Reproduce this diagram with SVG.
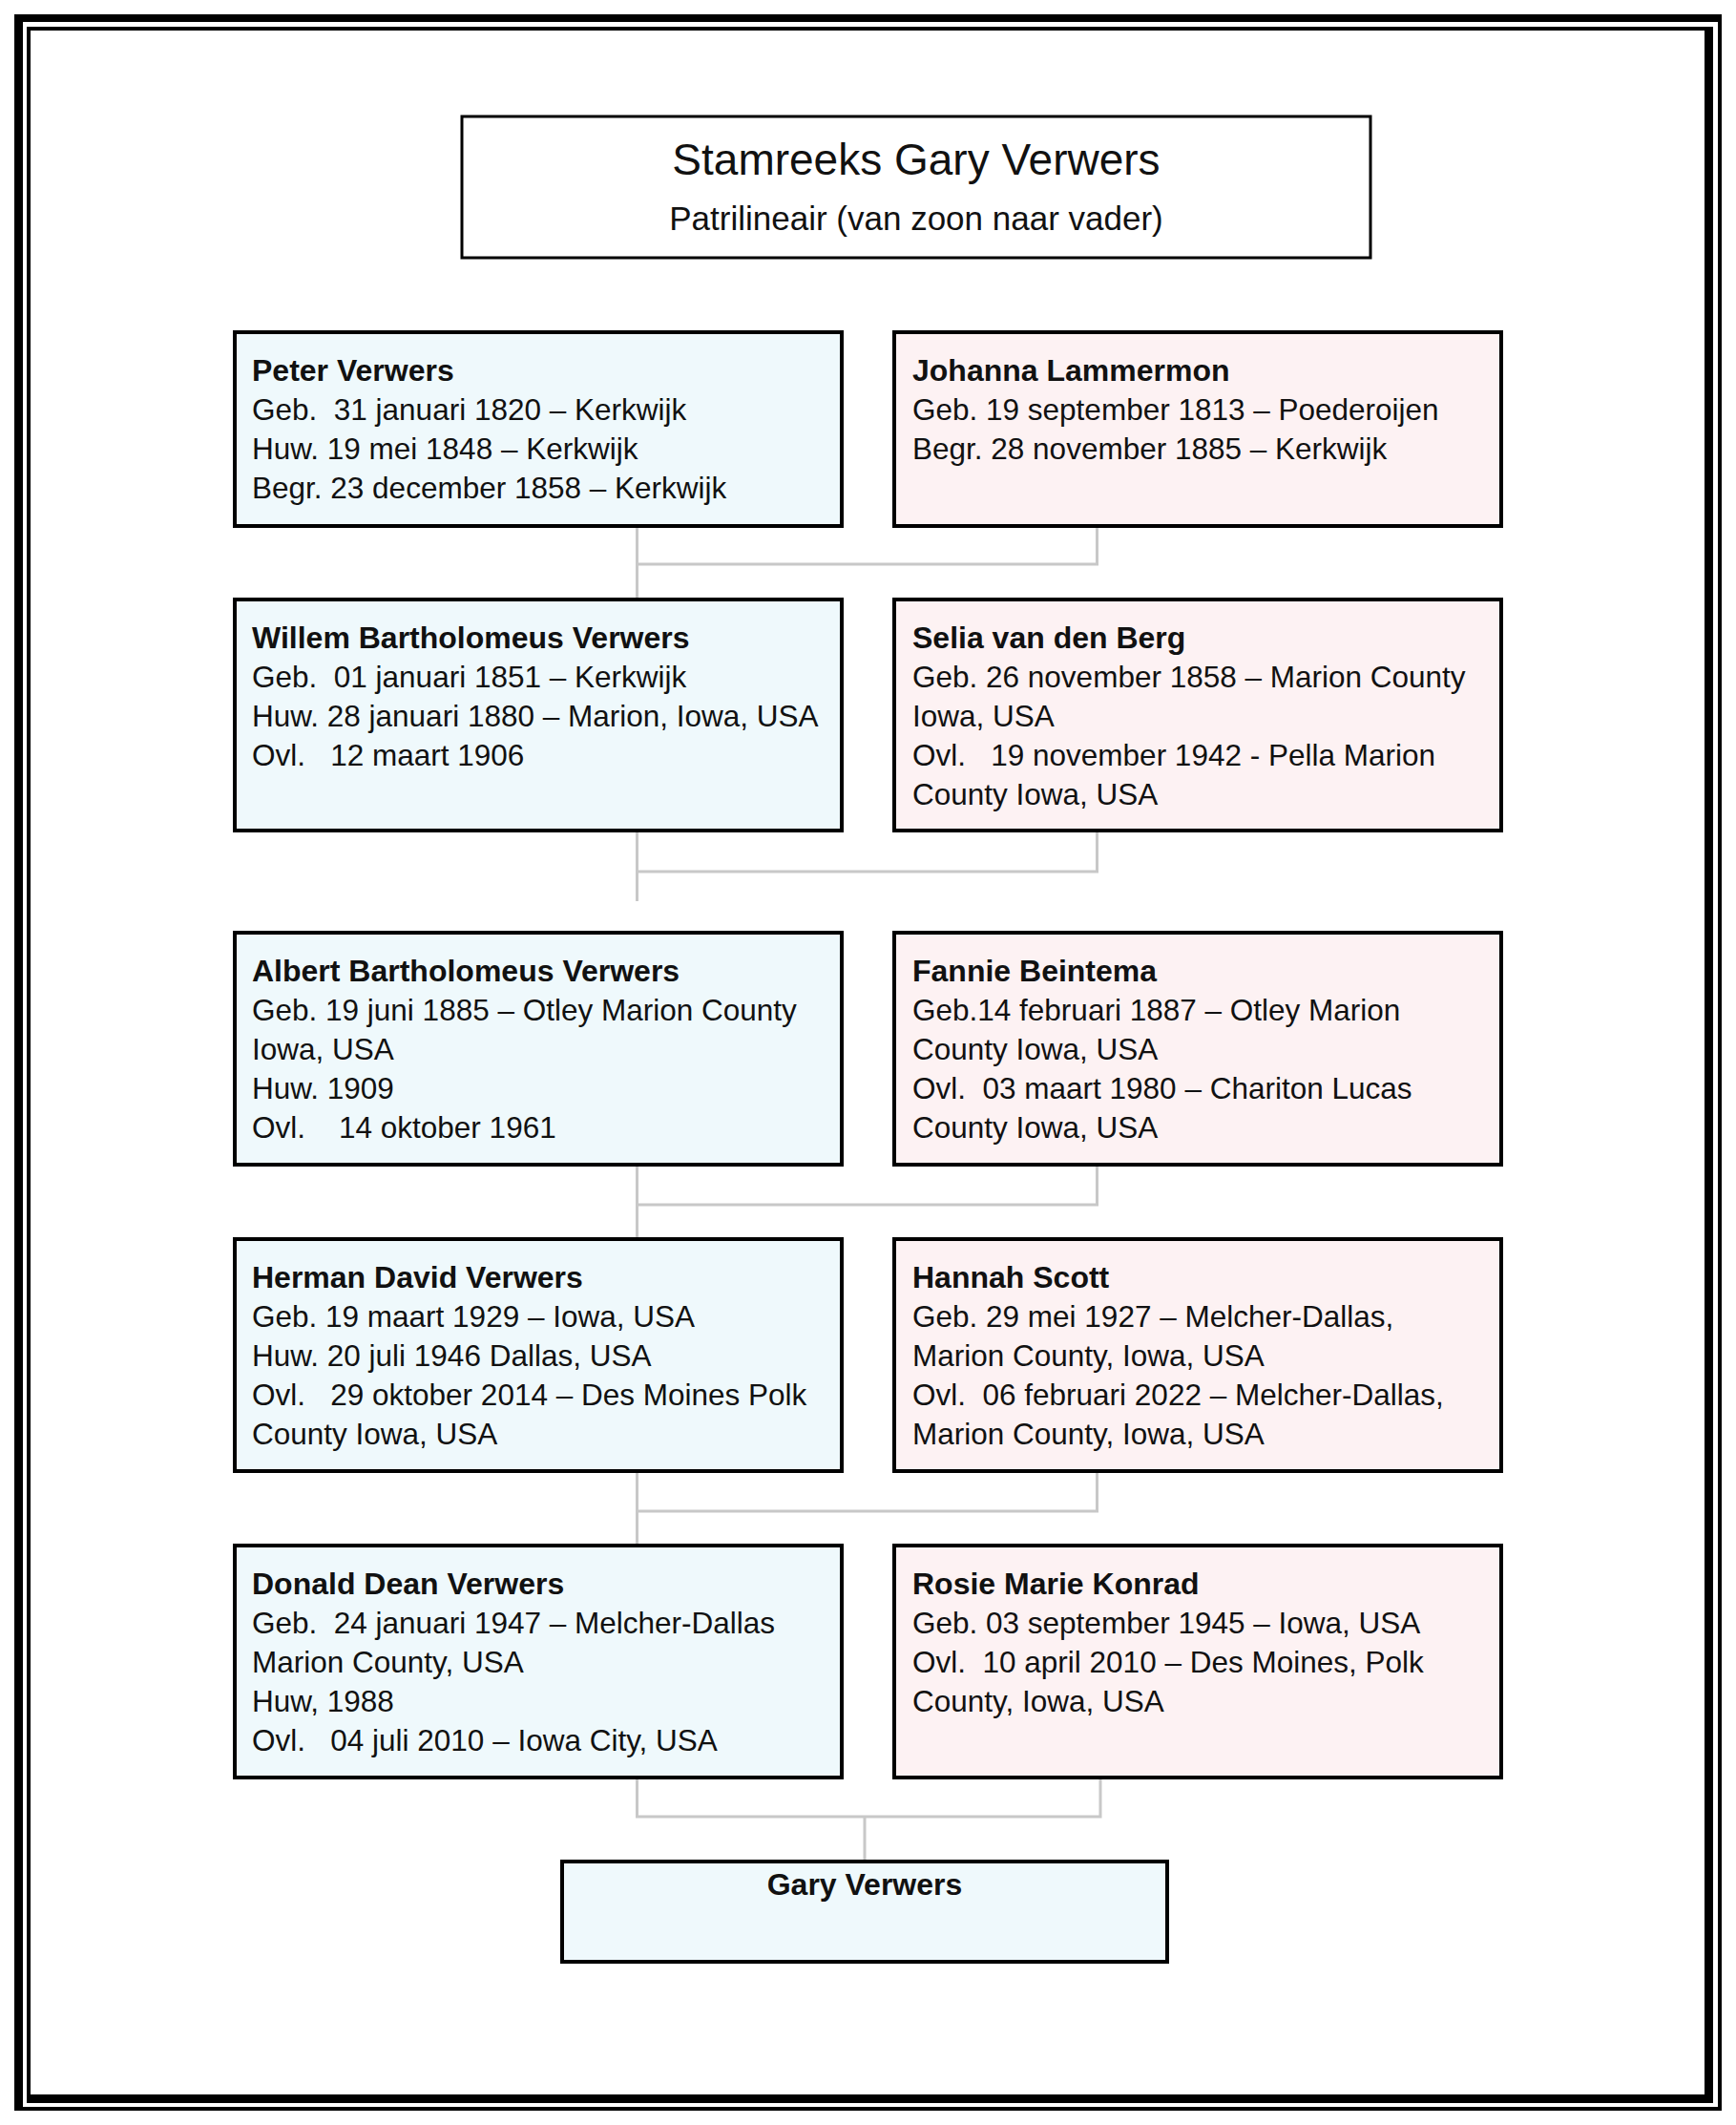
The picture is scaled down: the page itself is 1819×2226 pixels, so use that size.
<svg xmlns="http://www.w3.org/2000/svg" width="1819" height="2226" viewBox="0 0 1819 2226">
<style>
text{font-family:"Liberation Sans",Arial,sans-serif;fill:#111;white-space:pre}
.t{font-size:31.5px}
.b{font-size:32px;font-weight:bold}
.title{font-size:46px}
.sub{font-size:35px}
.m{fill:#EFF9FC;stroke:#000;stroke-width:4}
.f{fill:#FDF2F3;stroke:#000;stroke-width:4}
.c{fill:none;stroke:#C8C8C8;stroke-width:3}
</style>
<rect width="1819" height="2226" fill="#fff"/>
<g id="border" fill="#000">
<rect x="15" y="15" width="9" height="2196"/>
<rect x="15" y="15" width="1789" height="8"/>
<rect x="1800" y="15" width="4" height="2196"/>
<rect x="15" y="2207" width="1789" height="4"/>
<rect x="28" y="28" width="4" height="2175"/>
<rect x="28" y="28" width="1767" height="4"/>
<rect x="1786" y="28" width="9" height="2175"/>
<rect x="28" y="2194" width="1767" height="9"/>
</g>
<g id="title">
<rect x="484" y="122" width="952" height="148" fill="#fff" stroke="#000" stroke-width="3"/>
<text class="title" x="960" y="183" text-anchor="middle">Stamreeks Gary Verwers</text>
<text class="sub" x="960" y="241" text-anchor="middle">Patrilineair (van zoon naar vader)</text>
</g>
<g id="connectors">
<path class="c" d="M667.5 551V628M667.5 591H1149.5V551"/>
<path class="c" d="M667.5 870V944M667.5 913H1149.5V870"/>
<path class="c" d="M667.5 1220V1298M667.5 1262H1149.5V1220"/>
<path class="c" d="M667.5 1541V1619M667.5 1583H1149.5V1541"/>
<path class="c" d="M667.5 1862V1903H1153V1862M906 1903V1950"/>
</g>
<g id="peter">
<rect class="m" x="246" y="348" width="636" height="203"/>
<text class="b" x="264" y="399">Peter Verwers</text>
<text class="t" x="264" y="440">Geb.  31 januari 1820 – Kerkwijk</text>
<text class="t" x="264" y="481">Huw. 19 mei 1848 – Kerkwijk</text>
<text class="t" x="264" y="522">Begr. 23 december 1858 – Kerkwijk</text>
</g>
<g id="johanna">
<rect class="f" x="937" y="348" width="636" height="203"/>
<text class="b" x="956" y="399">Johanna Lammermon</text>
<text class="t" x="956" y="440">Geb. 19 september 1813 – Poederoijen</text>
<text class="t" x="956" y="481">Begr. 28 november 1885 – Kerkwijk</text>
</g>
<g id="willem">
<rect class="m" x="246" y="628" width="636" height="242"/>
<text class="b" x="264" y="679">Willem Bartholomeus Verwers</text>
<text class="t" x="264" y="720">Geb.  01 januari 1851 – Kerkwijk</text>
<text class="t" x="264" y="761">Huw. 28 januari 1880 – Marion, Iowa, USA</text>
<text class="t" x="264" y="802">Ovl.   12 maart 1906</text>
</g>
<g id="selia">
<rect class="f" x="937" y="628" width="636" height="242"/>
<text class="b" x="956" y="679">Selia van den Berg</text>
<text class="t" x="956" y="720">Geb. 26 november 1858 – Marion County</text>
<text class="t" x="956" y="761">Iowa, USA</text>
<text class="t" x="956" y="802">Ovl.   19 november 1942 - Pella Marion</text>
<text class="t" x="956" y="843">County Iowa, USA</text>
</g>
<g id="albert">
<rect class="m" x="246" y="977" width="636" height="243"/>
<text class="b" x="264" y="1028">Albert Bartholomeus Verwers</text>
<text class="t" x="264" y="1069">Geb. 19 juni 1885 – Otley Marion County</text>
<text class="t" x="264" y="1110">Iowa, USA</text>
<text class="t" x="264" y="1151">Huw. 1909</text>
<text class="t" x="264" y="1192">Ovl.    14 oktober 1961</text>
</g>
<g id="fannie">
<rect class="f" x="937" y="977" width="636" height="243"/>
<text class="b" x="956" y="1028">Fannie Beintema</text>
<text class="t" x="956" y="1069">Geb.14 februari 1887 – Otley Marion</text>
<text class="t" x="956" y="1110">County Iowa, USA</text>
<text class="t" x="956" y="1151">Ovl.  03 maart 1980 – Chariton Lucas</text>
<text class="t" x="956" y="1192">County Iowa, USA</text>
</g>
<g id="herman">
<rect class="m" x="246" y="1298" width="636" height="243"/>
<text class="b" x="264" y="1349">Herman David Verwers</text>
<text class="t" x="264" y="1390">Geb. 19 maart 1929 – Iowa, USA</text>
<text class="t" x="264" y="1431">Huw. 20 juli 1946 Dallas, USA</text>
<text class="t" x="264" y="1472">Ovl.   29 oktober 2014 – Des Moines Polk</text>
<text class="t" x="264" y="1513">County Iowa, USA</text>
</g>
<g id="hannah">
<rect class="f" x="937" y="1298" width="636" height="243"/>
<text class="b" x="956" y="1349">Hannah Scott</text>
<text class="t" x="956" y="1390">Geb. 29 mei 1927 – Melcher-Dallas,</text>
<text class="t" x="956" y="1431">Marion County, Iowa, USA</text>
<text class="t" x="956" y="1472">Ovl.  06 februari 2022 – Melcher-Dallas,</text>
<text class="t" x="956" y="1513">Marion County, Iowa, USA</text>
</g>
<g id="donald">
<rect class="m" x="246" y="1619" width="636" height="243"/>
<text class="b" x="264" y="1670">Donald Dean Verwers</text>
<text class="t" x="264" y="1711">Geb.  24 januari 1947 – Melcher-Dallas</text>
<text class="t" x="264" y="1752">Marion County, USA</text>
<text class="t" x="264" y="1793">Huw, 1988</text>
<text class="t" x="264" y="1834">Ovl.   04 juli 2010 – Iowa City, USA</text>
</g>
<g id="rosie">
<rect class="f" x="937" y="1619" width="636" height="243"/>
<text class="b" x="956" y="1670">Rosie Marie Konrad</text>
<text class="t" x="956" y="1711">Geb. 03 september 1945 – Iowa, USA</text>
<text class="t" x="956" y="1752">Ovl.  10 april 2010 – Des Moines, Polk</text>
<text class="t" x="956" y="1793">County, Iowa, USA</text>
</g>
<g id="gary">
<rect class="m" x="589" y="1950" width="634" height="105"/>
<text class="b" x="906" y="1985" text-anchor="middle">Gary Verwers</text>
</g>
</svg>
